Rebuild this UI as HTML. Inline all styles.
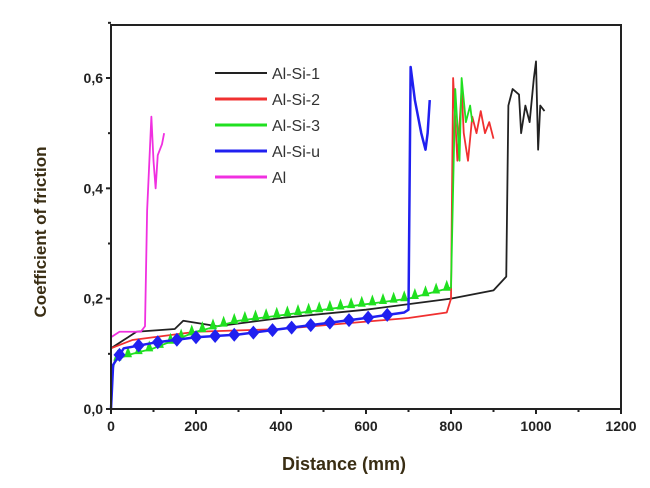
<!DOCTYPE html>
<html><head><meta charset="utf-8"><style>
body{margin:0;background:#fff;width:650px;height:488px;overflow:hidden}
svg{display:block}
text{font-family:"Liberation Sans",sans-serif}
</style></head><body>
<svg id="chart" width="650" height="488"></svg>
<script>
const xTicks=[0,200,400,600,800,1000,1200];
const yTicks=[0.0,0.2,0.4,0.6];
const yTickLabels=["0,0","0,2","0,4","0,6"];
const seriesNames=["Al-Si-1","Al-Si-2","Al-Si-3","Al-Si-u","Al"];
const seriesColors=["#222","#f03030","#20e020","#2020f0","#f030e0"];
const s1x=[0,30,60,150,170,250,400,600,800,900,930,935,945,960,965,975,985,995,1000,1005,1010,1020];
const s1y=[0.11,0.125,0.14,0.145,0.16,0.15,0.165,0.18,0.2,0.215,0.24,0.55,0.58,0.57,0.5,0.55,0.52,0.6,0.63,0.47,0.55,0.54];
const s2x=[0,50,200,400,700,790,800,805,815,825,830,840,850,860,870,880,890,900];
const s2y=[0.11,0.125,0.14,0.145,0.165,0.175,0.2,0.6,0.45,0.58,0.5,0.45,0.53,0.5,0.54,0.5,0.52,0.49];
const s3x=[0,10,50,100,200,300,400,500,600,700,800,810,820,825,835,845,850];
const s3y=[0.06,0.09,0.1,0.11,0.14,0.16,0.17,0.18,0.19,0.2,0.22,0.58,0.45,0.6,0.52,0.55,0.52];
const s4x=[0,5,30,100,200,300,400,500,600,690,700,705,715,730,740,745,750];
const s4y=[0,0.08,0.11,0.12,0.13,0.135,0.145,0.155,0.165,0.175,0.18,0.62,0.56,0.5,0.47,0.5,0.56];
const s5x=[0,20,70,80,85,95,100,105,110,120,125];
const s5y=[0.13,0.14,0.14,0.15,0.36,0.53,0.45,0.4,0.46,0.48,0.5];
const L=111,R=621,T=25,B=409;
const X=v=>L+v/1200*(R-L);
const Y=v=>B-v/0.6*(B-78);
const svg=document.getElementById('chart');
const NS='http://www.w3.org/2000/svg';
function mk(tag,attrs,parent){const e=document.createElementNS(NS,tag);for(const k in attrs)e.setAttribute(k,attrs[k]);(parent||svg).appendChild(e);return e;}
function interp(xs,ys,x){for(let j=1;j<xs.length;j++){if(xs[j]>=x){const t=(x-xs[j-1])/((xs[j]-xs[j-1])||1);return ys[j-1]+(ys[j]-ys[j-1])*t;}}return ys[ys.length-1];}
const sx=[s1x,s2x,s3x,s4x,s5x],sy=[s1y,s2y,s3y,s4y,s5y];
[0,1,2,3,4].forEach(i=>{
 const pts=sx[i].map((x,j)=>X(x)+','+Y(sy[i][j])).join(' ');
 const p=mk('polyline',{points:pts,fill:'none',stroke:seriesColors[i],'stroke-width':i==3?2.5:1.8,'stroke-linejoin':'round'});
 
 
 if(i==2||i==3){
  const step=i==2?25:45,end=i==2?800:690;
  for(let xv=(i==2?15:20);xv<=end;xv+=step){
   const cx=X(xv),cy=Y(interp(sx[i],sy[i],xv));
   const m=i==3?mk('polygon',{points:`${cx},${cy-7} ${cx+6},${cy} ${cx},${cy+7} ${cx-6},${cy}`,fill:seriesColors[i]}):mk('polygon',{points:`${cx},${cy-9} ${cx+4},${cy+2} ${cx-4},${cy+2}`,fill:seriesColors[i]});
   
   
  }
 }
});
const fr=mk('rect',{x:L,y:T,width:R-L,height:B-T,fill:'none',stroke:'#222','stroke-width':2});


xTicks.forEach((v,i)=>{
 mk('line',{x1:X(v),x2:X(v),y1:B,y2:B+5,stroke:'#222','stroke-width':2});
 if(i<xTicks.length-1)mk('line',{x1:X(v+100),x2:X(v+100),y1:B,y2:B+3,stroke:'#222','stroke-width':2});
 const t=mk('text',{x:X(v),y:B+22,'text-anchor':'middle','font-size':14,'font-weight':'bold',fill:'#222'});t.textContent=v;
 
 
});
yTicks.forEach((v,i)=>{
 mk('line',{x1:L-5,x2:L,y1:Y(v),y2:Y(v),stroke:'#222','stroke-width':2});
 mk('line',{x1:L-3,x2:L,y1:Y(v+0.1),y2:Y(v+0.1),stroke:'#222','stroke-width':2});
 const t=mk('text',{x:L-8,y:Y(v)+5,'text-anchor':'end','font-size':14,'font-weight':'bold',fill:'#222'});t.textContent=yTickLabels[i];
 
 
});
const xt=mk('text',{x:344,y:470,'text-anchor':'middle','font-size':18,'font-weight':'bold',fill:'#3a2e14'});xt.textContent='Distance (mm)';


const yt=mk('text',{x:0,y:0,'text-anchor':'middle','font-size':17,'font-weight':'bold',fill:'#3a2e14',transform:'translate(46,232) rotate(-90)'});yt.textContent='Coefficient of friction';


seriesNames.forEach((n,i)=>{
 const y=73+i*26;
 const l=mk('line',{x1:215,x2:267,y1:y,y2:y,stroke:seriesColors[i],'stroke-width':i==0?2:3});
 
 
 const t=mk('text',{x:272,y:y+6,'font-size':16,fill:'#333'});t.textContent=n;
 
 
});
</script>
</body></html>
